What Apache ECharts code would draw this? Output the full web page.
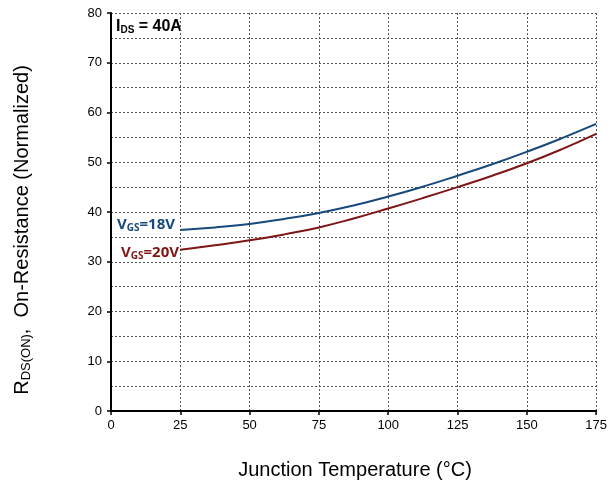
<!DOCTYPE html>
<html>
<head>
<meta charset="utf-8">
<script src="https://cdn.jsdelivr.net/npm/echarts@6/dist/echarts.min.js"></script>
<style>html,body{margin:0;padding:0;background:#fff;}#c{width:610px;height:486px;}</style>
</head>
<body>
<div id="c"></div>
<script>
var temps = [25, 37.5, 50, 62.5, 75, 87.5, 100, 112.5, 125, 137.5, 150, 162.5, 175];
var vgs18 = [36.4, 36.9, 37.6, 38.6, 39.8, 41.3, 43.1, 45.1, 47.3, 49.6, 52.1, 54.8, 57.7];
var vgs20 = [32.4, 33.3, 34.3, 35.5, 36.9, 38.7, 40.7, 42.8, 45.0, 47.3, 49.8, 52.6, 55.7];
var xTicks = [0, 25, 50, 75, 100, 125, 150, 175];
var yTicks = [0, 10, 20, 30, 40, 50, 60, 70, 80];

function pairs(xs, ys) { return xs.map(function (x, i) { return [x, ys[i]]; }); }

var chart = echarts.init(document.getElementById('c'), null, {renderer: 'canvas'});
var gridLine = {show: true, lineStyle: {color: '#555', width: 1, type: [2, 2]}};
chart.setOption({
  animation: false,
  grid: {left: 111, right: 13, top: 13, bottom: 75},
  xAxis: {
    type: 'value', min: xTicks[0], max: xTicks[xTicks.length - 1], interval: 25,
    axisLine: {show: true, lineStyle: {color: '#000', width: 2}},
    axisTick: {show: true, length: 4, lineStyle: {color: '#000', width: 1.5}},
    axisLabel: {color: '#000', fontSize: 13, fontFamily: 'Liberation Sans', margin: 8},
    splitLine: gridLine
  },
  yAxis: {
    type: 'value', min: yTicks[0], max: yTicks[yTicks.length - 1], interval: 10,
    axisLine: {show: true, lineStyle: {color: '#000', width: 2}},
    axisTick: {show: true, length: 4, lineStyle: {color: '#000', width: 1.5}},
    axisLabel: {color: '#000', fontSize: 13, fontFamily: 'Liberation Sans', margin: 9},
    splitLine: gridLine,
    minorTick: {show: false, splitNumber: 2},
    minorSplitLine: gridLine
  },
  series: [
    {name: 'VGS=18V', type: 'line', smooth: true, showSymbol: false, data: pairs(temps, vgs18),
     lineStyle: {color: '#17497c', width: 2}, itemStyle: {color: '#17497c'}},
    {name: 'VGS=20V', type: 'line', smooth: true, showSymbol: false, data: pairs(temps, vgs20),
     lineStyle: {color: '#7e1616', width: 2}, itemStyle: {color: '#7e1616'}}
  ],
  graphic: [
    {type: 'text', left: 116, top: 19, style: {
      text: '{m|I}{s|DS}{m| = 40A}',
      rich: {m: {fontSize: 16, fontWeight: 'bold', fontFamily: 'Liberation Sans', fill: '#000'},
             s: {fontSize: 10, fontWeight: 'bold', fontFamily: 'Liberation Sans', fill: '#000', padding: [7, 0, 0, 0]}}}},
    {type: 'text', left: 117, top: 217, style: {
      text: '{m|V}{s|GS}{m|=18V}',
      rich: {m: {fontSize: 15, fontWeight: 'bold', fontFamily: 'Open Sans', fill: '#17497c'},
             s: {fontSize: 10, fontWeight: 'bold', fontFamily: 'Open Sans', fill: '#17497c', padding: [7, 0, 0, 0]}}}},
    {type: 'text', left: 121, top: 245, style: {
      text: '{m|V}{s|GS}{m|=20V}',
      rich: {m: {fontSize: 15, fontWeight: 'bold', fontFamily: 'Open Sans', fill: '#7e1616'},
             s: {fontSize: 10, fontWeight: 'bold', fontFamily: 'Open Sans', fill: '#7e1616', padding: [7, 0, 0, 0]}}}},
    {type: 'text', x: 22, y: 230, rotation: Math.PI / 2, style: {
      text: '{m|R}{s|DS(ON)}{m|,  On-Resistance (Normalized)}',
      align: 'center', verticalAlign: 'middle',
      rich: {m: {fontSize: 20, fontFamily: 'Liberation Sans', fill: '#000'},
             s: {fontSize: 13, fontFamily: 'Liberation Sans', fill: '#000', padding: [9, 0, 0, 0]}}}},
    {type: 'text', x: 355, y: 470, style: {
      text: 'Junction Temperature (°C)', align: 'center', verticalAlign: 'middle',
      fontSize: 20, fontFamily: 'Liberation Sans', fill: '#000'}}
  ]
});
</script>
</body>
</html>
